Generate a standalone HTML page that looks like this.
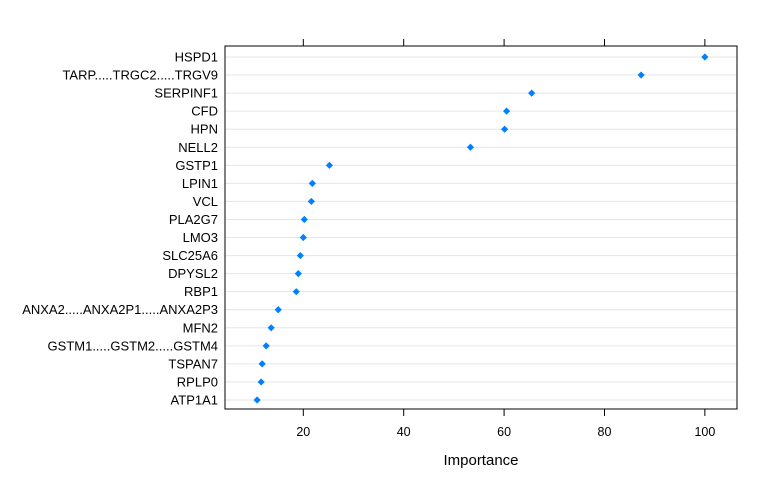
<!DOCTYPE html>
<html><head><meta charset="utf-8"><style>
body{margin:0;background:#fff;}
svg{display:block;font-family:"Liberation Sans",Arial,sans-serif;}
</style></head><body>
<svg id="chart" width="768" height="480" xmlns="http://www.w3.org/2000/svg"></svg>
<script>
const categories=["HSPD1","TARP.....TRGC2.....TRGV9","SERPINF1","CFD","HPN","NELL2","GSTP1","LPIN1","VCL","PLA2G7","LMO3","SLC25A6","DPYSL2","RBP1","ANXA2.....ANXA2P1.....ANXA2P3","MFN2","GSTM1.....GSTM2.....GSTM4","TSPAN7","RPLP0","ATP1A1"];
const importance=[100,87.3,65.5,60.5,60.1,53.3,25.2,21.8,21.6,20.2,20,19.4,19,18.6,15,13.6,12.6,11.8,11.6,10.8];
const xTicks=[20,40,60,80,100];
const NS="http://www.w3.org/2000/svg";
const svg=document.getElementById('chart');
const L=225,R=737,T=46,B=409;
const xmin=4.4,xmax=106.4;
function x(v){return L+(v-xmin)/(xmax-xmin)*(R-L);}
const rowTop=57,rowStep=(400-57)/(categories.length-1);
function y(i){return rowTop+i*rowStep;}
function mk(tag,attrs){const e=document.createElementNS(NS,tag);for(const k in attrs)e.setAttribute(k,attrs[k]);svg.appendChild(e);return e;}
categories.forEach((c,i)=>{
  const g=mk('line',{x1:L,x2:R,y1:y(i),y2:y(i),stroke:'#e6e6e6','stroke-width':1});
  
  
  const t=mk('text',{x:218,y:y(i)+4.5,'text-anchor':'end','font-size':13,fill:'#000'});
  t.textContent=c;
  
  
});
const box=mk('rect',{x:L,y:T,width:R-L,height:B-T,fill:'none',stroke:'#000','stroke-width':1});


xTicks.forEach(v=>{
  const tb=mk('line',{x1:x(v),x2:x(v),y1:B,y2:B+7,stroke:'#000'});
  
  
  const tt=mk('line',{x1:x(v),x2:x(v),y1:T,y2:T-7,stroke:'#000'});
  
  
  const l=mk('text',{x:x(v),y:436,'text-anchor':'middle','font-size':12.5,fill:'#000'});
  l.textContent=v;
  
  
});
importance.forEach((v,i)=>{
  const cx=x(v),cy=y(i),s=3.6;
  const p=mk('polygon',{points:`${cx},${cy-s} ${cx+s},${cy} ${cx},${cy+s} ${cx-s},${cy}`,fill:'#0080ff'});
  
  
});
const xt=mk('text',{x:481,y:465,'text-anchor':'middle','font-size':15,fill:'#000'});
xt.textContent='Importance';


</script>
</body></html>
